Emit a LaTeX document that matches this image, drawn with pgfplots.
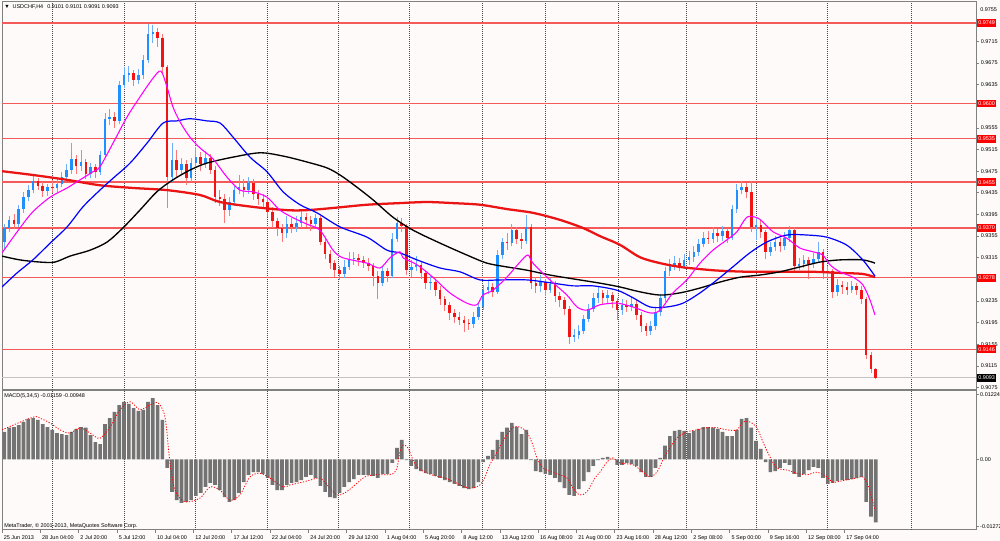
\documentclass[border=0pt]{standalone}
\usepackage{fontspec}
\setmainfont{Liberation Sans}
\usepackage{pgfplots}
\usepackage{pgfplotstable}
\pgfplotsset{compat=1.18}
\definecolor{bg}{RGB}{253,250,249}
\definecolor{upc}{RGB}{30,144,255}
\definecolor{upw}{RGB}{110,175,250}
\definecolor{dnc}{RGB}{240,20,20}
\definecolor{dnw}{RGB}{250,120,120}
\definecolor{lvl}{RGB}{245,90,90}
\definecolor{maM}{RGB}{255,0,255}
\definecolor{maB}{RGB}{0,0,255}
\definecolor{maR}{RGB}{235,20,20}
\definecolor{hist}{RGB}{115,115,115}
\definecolor{frame}{RGB}{128,128,128}
\definecolor{gridc}{RGB}{70,70,70}
\definecolor{bid}{RGB}{195,195,195}
\newcommand\mt{\fontsize{4.1pt}{4.9pt}\selectfont}

\pgfplotstableread{
i o h l c
1 0.9345 0.9378 0.9330 0.9370
3 0.9370 0.9392 0.9362 0.9385
5 0.9385 0.9395 0.9368 0.9378
7 0.9378 0.9412 0.9372 0.9405
9 0.9405 0.9436 0.9398 0.9428
11 0.9428 0.9450 0.9420 0.9440
13 0.9440 0.9466 0.9434 0.9456
15 0.9456 0.9462 0.9440 0.9448
17 0.9448 0.9455 0.9428 0.9438
19 0.9438 0.9452 0.9430 0.9446
21 0.9446 0.9458 0.9435 0.9443
23 0.9443 0.9460 0.9436 0.9452
25 0.9452 0.9474 0.9445 0.9465
27 0.9465 0.9488 0.9458 0.9478
29 0.9478 0.9527 0.9470 0.9497
31 0.9497 0.9505 0.9470 0.9484
33 0.9484 0.9515 0.9475 0.9492
35 0.9492 0.9498 0.9460 0.9470
37 0.9470 0.9490 0.9462 0.9482
39 0.9482 0.9488 0.9462 0.9474
41 0.9474 0.9512 0.9468 0.9505
43 0.9505 0.9582 0.9500 0.9572
45 0.9572 0.9590 0.9560 0.9576
47 0.9576 0.9585 0.9555 0.9568
49 0.9568 0.9642 0.9562 0.9635
51 0.9635 0.9668 0.9628 0.9652
53 0.9652 0.9670 0.9640 0.9656
55 0.9656 0.9662 0.9632 0.9644
57 0.9644 0.9663 0.9636 0.9652
59 0.9652 0.9690 0.9645 0.9680
61 0.9680 0.9747 0.9675 0.9728
63 0.9728 0.9745 0.9712 0.9732
65 0.9732 0.9740 0.9705 0.9722
67 0.9722 0.9728 0.9655 0.9668
69 0.9668 0.9672 0.9407 0.9465
71 0.9465 0.9528 0.9455 0.9495
73 0.9495 0.9515 0.9462 0.9478
75 0.9478 0.9500 0.9468 0.9488
77 0.9488 0.9495 0.9450 0.9462
79 0.9462 0.9500 0.9455 0.9490
81 0.9490 0.9520 0.9480 0.9502
83 0.9502 0.9510 0.9475 0.9488
85 0.9488 0.9512 0.9480 0.9500
87 0.9500 0.9506 0.9470 0.9478
89 0.9478 0.9484 0.9416 0.9428
91 0.9428 0.9440 0.9410 0.9424
93 0.9424 0.9432 0.9380 0.9403
95 0.9403 0.9428 0.9392 0.9418
97 0.9418 0.9450 0.9410 0.9440
99 0.9440 0.9468 0.9432 0.9446
101 0.9446 0.9460 0.9428 0.9440
103 0.9440 0.9465 0.9432 0.9454
105 0.9454 0.9460 0.9422 0.9432
107 0.9432 0.9440 0.9412 0.9424
109 0.9424 0.9432 0.9405 0.9418
111 0.9418 0.9425 0.9390 0.9400
113 0.9400 0.9408 0.9370 0.9382
115 0.9382 0.9388 0.9355 0.9370
117 0.9370 0.9378 0.9345 0.9360
119 0.9360 0.9392 0.9352 0.9377
121 0.9377 0.9388 0.9360 0.9372
123 0.9372 0.9392 0.9362 0.9380
125 0.9380 0.9402 0.9370 0.9390
127 0.9390 0.9398 0.9372 0.9384
129 0.9384 0.9392 0.9365 0.9378
131 0.9378 0.9396 0.9370 0.9388
133 0.9388 0.9392 0.9338 0.9345
135 0.9345 0.9352 0.9312 0.9322
137 0.9322 0.9330 0.9295 0.9305
139 0.9305 0.9310 0.9280 0.9292
141 0.9292 0.9300 0.9274 0.9285
143 0.9285 0.9310 0.9278 0.9298
145 0.9298 0.9325 0.9292 0.9312
147 0.9312 0.9326 0.9302 0.9314
149 0.9314 0.9322 0.9300 0.9310
151 0.9310 0.9318 0.9296 0.9306
153 0.9306 0.9314 0.9290 0.9300
155 0.9300 0.9306 0.9262 0.9282
157 0.9282 0.9290 0.9238 0.9268
159 0.9268 0.9298 0.9262 0.9290
161 0.9290 0.9296 0.9270 0.9282
163 0.9282 0.9360 0.9278 0.9350
165 0.9350 0.9390 0.9345 0.9380
167 0.9380 0.9388 0.9362 0.9374
169 0.9374 0.9378 0.9284 0.9292
171 0.9292 0.9310 0.9280 0.9298
173 0.9298 0.9318 0.9290 0.9302
175 0.9302 0.9308 0.9275 0.9286
177 0.9286 0.9292 0.9258 0.9268
179 0.9268 0.9282 0.9255 0.9270
181 0.9270 0.9276 0.9245 0.9255
183 0.9255 0.9262 0.9228 0.9238
185 0.9238 0.9244 0.9216 0.9228
187 0.9228 0.9234 0.9200 0.9212
189 0.9212 0.9220 0.9195 0.9206
191 0.9206 0.9214 0.9190 0.9200
193 0.9200 0.9208 0.9178 0.9194
195 0.9194 0.9202 0.9182 0.9192
197 0.9192 0.9214 0.9186 0.9206
199 0.9206 0.9232 0.9200 0.9224
201 0.9224 0.9264 0.9218 0.9256
203 0.9256 0.9272 0.9248 0.9260
205 0.9260 0.9268 0.9242 0.9252
207 0.9252 0.9330 0.9248 0.9320
209 0.9320 0.9352 0.9312 0.9345
211 0.9345 0.9360 0.9330 0.9342
213 0.9342 0.9378 0.9336 0.9366
215 0.9366 0.9372 0.9340 0.9350
217 0.9350 0.9360 0.9332 0.9346
219 0.9346 0.9394 0.9340 0.9372
221 0.9372 0.9378 0.9258 0.9268
223 0.9268 0.9280 0.9250 0.9262
225 0.9262 0.9284 0.9252 0.9270
227 0.9270 0.9276 0.9244 0.9256
229 0.9256 0.9278 0.9250 0.9266
231 0.9266 0.9272 0.9234 0.9244
233 0.9244 0.9252 0.9224 0.9236
235 0.9236 0.9242 0.9210 0.9220
237 0.9220 0.9226 0.9156 0.9168
239 0.9168 0.9184 0.9160 0.9172
241 0.9172 0.9190 0.9164 0.9180
243 0.9180 0.9210 0.9174 0.9202
245 0.9202 0.9230 0.9196 0.9220
247 0.9220 0.9250 0.9214 0.9240
249 0.9240 0.9262 0.9232 0.9250
251 0.9250 0.9256 0.9230 0.9240
253 0.9240 0.9256 0.9232 0.9246
255 0.9246 0.9252 0.9222 0.9235
257 0.9235 0.9240 0.9200 0.9218
259 0.9218 0.9238 0.9210 0.9228
261 0.9228 0.9236 0.9214 0.9224
263 0.9224 0.9242 0.9216 0.9230
265 0.9230 0.9236 0.9200 0.9210
267 0.9210 0.9215 0.9178 0.9188
269 0.9188 0.9194 0.9170 0.9180
271 0.9180 0.9198 0.9172 0.9188
273 0.9188 0.9222 0.9182 0.9215
275 0.9215 0.9248 0.9208 0.9240
277 0.9240 0.9298 0.9234 0.9290
279 0.9290 0.9312 0.9282 0.9300
281 0.9300 0.9318 0.9292 0.9306
283 0.9306 0.9314 0.9290 0.9300
285 0.9300 0.9322 0.9294 0.9310
287 0.9310 0.9328 0.9302 0.9316
289 0.9316 0.9336 0.9308 0.9326
291 0.9326 0.9350 0.9318 0.9340
293 0.9340 0.9362 0.9334 0.9352
295 0.9352 0.9364 0.9340 0.9350
297 0.9350 0.9372 0.9342 0.9360
299 0.9360 0.9368 0.9345 0.9355
301 0.9355 0.9374 0.9346 0.9364
303 0.9364 0.9370 0.9342 0.9352
305 0.9352 0.9412 0.9348 0.9405
307 0.9405 0.9452 0.9398 0.9440
309 0.9440 0.9456 0.9432 0.9446
311 0.9446 0.9454 0.9425 0.9436
313 0.9436 0.9456 0.9362 0.9372
315 0.9372 0.9390 0.9348 0.9376
317 0.9376 0.9385 0.9352 0.9362
319 0.9362 0.9366 0.9312 0.9325
321 0.9325 0.9345 0.9318 0.9335
323 0.9335 0.9356 0.9328 0.9345
325 0.9345 0.9352 0.9326 0.9336
327 0.9336 0.9362 0.9330 0.9352
329 0.9352 0.9374 0.9345 0.9366
331 0.9366 0.9372 0.9290 0.9300
333 0.9300 0.9314 0.9292 0.9304
335 0.9304 0.9320 0.9296 0.9310
337 0.9310 0.9316 0.9276 0.9304
339 0.9304 0.9324 0.9296 0.9312
341 0.9312 0.9345 0.9306 0.9326
343 0.9326 0.9332 0.9276 0.9286
345 0.9286 0.9300 0.9276 0.9290
347 0.9290 0.9294 0.9240 0.9252
349 0.9252 0.9276 0.9244 0.9264
351 0.9264 0.9272 0.9248 0.9260
353 0.9260 0.9270 0.9246 0.9256
355 0.9256 0.9272 0.9250 0.9262
357 0.9262 0.9268 0.9246 0.9255
359 0.9255 0.9262 0.9230 0.9238
361 0.9238 0.9242 0.9128 0.9135
363 0.9135 0.9140 0.9102 0.9110
365 0.9110 0.9112 0.9090 0.9093
}\candles

\pgfplotstableread{
i m
1 5.2
3 6.0
5 6.1
7 6.5
9 7.1
11 7.7
13 7.8
15 7.5
17 6.7
19 6.1
21 5.6
23 5.0
25 4.8
27 4.6
29 5.2
31 5.8
33 6.1
35 6.0
37 4.6
39 3.3
41 2.9
43 6.7
45 7.8
47 9.0
49 10.3
51 10.9
53 10.5
55 9.7
57 9.2
59 9.4
61 10.9
63 11.6
65 10.3
67 7.5
69 -1.6
71 -6.1
73 -7.7
75 -8.2
77 -8.0
79 -7.7
81 -6.9
83 -6.3
85 -5.2
87 -4.4
89 -4.8
91 -5.8
93 -7.1
95 -8.0
97 -7.7
99 -6.3
101 -4.3
103 -2.9
105 -2.4
107 -2.4
109 -2.7
111 -3.5
113 -4.8
115 -5.8
117 -5.8
119 -4.8
121 -4.4
123 -4.3
125 -3.9
127 -3.3
129 -2.9
131 -3.5
133 -5.0
135 -6.1
137 -7.1
139 -7.3
141 -6.3
143 -5.2
145 -4.3
147 -3.7
149 -2.9
151 -2.9
153 -2.9
155 -3.1
157 -3.5
159 -2.7
161 -2.7
163 -0.66
165 2.2
167 3.7
169 -0.1
171 -1.2
173 -1.8
175 -2.2
177 -2.6
179 -2.7
181 -3.1
183 -3.5
185 -3.9
187 -4.3
189 -4.6
191 -5.0
193 -5.4
195 -5.6
197 -5.4
199 -4.3
201 -0.5
203 0.66
205 1.8
207 3.7
209 5.2
211 6.0
213 6.9
215 6.1
217 4.8
219 5.6
221 -0.1
223 -2.2
225 -2.4
227 -2.7
229 -2.9
231 -3.5
233 -4.3
235 -5.4
237 -6.7
239 -6.9
241 -5.6
243 -4.1
245 -2.4
247 -1.2
249 -0.1
251 0.3
253 0.5
255 0.1
257 -1.0
259 -1.0
261 -0.66
263 -0.85
265 -1.2
267 -2.4
269 -3.3
271 -3.3
273 -1.6
275 0.3
277 2.6
279 4.4
281 5.4
283 5.6
285 5.4
287 5.0
289 5.4
291 5.8
293 6.1
295 6.1
297 6.0
299 5.8
301 5.2
303 4.4
305 4.4
307 5.6
309 7.7
311 7.8
313 6.0
315 3.5
317 2.0
319 -0.5
321 -2.4
323 -2.2
325 -1.6
327 -0.66
329 -1.0
331 -2.7
333 -3.3
335 -2.7
337 -2.0
339 -1.4
341 -1.6
343 -3.5
345 -4.6
347 -4.4
349 -4.1
351 -3.9
353 -3.9
355 -3.7
357 -3.5
359 -3.3
361 -8.0
363 -10.8
365 -11.9
}\macd

\begin{document}
\begin{tikzpicture}
\fill[bg] (0,0) rectangle (750pt,405.75pt);
\pgfplotsset{
  mtaxis/.style={
    anchor=south west, scale only axis, width=730.5pt,
    xmin=0, xmax=406.9,
    axis line style={draw=frame, line width=0.75pt},
    tick align=outside, major tick length=2.25pt,
    tick style={draw=frame, line width=0.5pt},
    tick label style={font=\mt, text=black},
    ytick pos=right, yticklabel pos=right,
    yticklabel style={inner sep=0pt, anchor=west, xshift=1.2pt},
    extra x ticks={20.9,51.0,80.6,110.7,140.4,170.4,200.5,227.2,257.3,286.1,315.0,345.0,380.1},
    extra x tick labels={},
    extra x tick style={grid=major, major tick length=0pt},
    major grid style={draw=gridc, line width=0.6pt, dash pattern=on 0.75pt off 0.75pt},
  },
  candle/.style={forget plot, draw=none, mark=none,
    error bars/y dir=plus, error bars/y explicit, error bars/error mark=none}
}
\begin{axis}[mtaxis, name=main, at={(1.5pt,113.25pt)}, height=291pt,
  ymin=0.90705, ymax=0.97878, xtick=\empty,
  ytick={0.9075,0.9115,0.9155,0.9195,0.9235,0.9315,0.9355,0.9395,0.9435,0.9475,0.9515,0.9555,0.9635,0.9675,0.9715},
  yticklabels={0.9075,0.9115,0.9155,0.9195,0.9235,0.9315,0.9355,0.9395,0.9435,0.9475,0.9515,0.9555,0.9635,0.9675,0.9715}]
% level lines
\addplot[lvl, line width=0.9pt, forget plot] coordinates {(0,0.9749) (406.9,0.9749)};
\addplot[lvl, line width=0.9pt, forget plot] coordinates {(0,0.9600) (406.9,0.9600)};
\addplot[lvl, line width=0.9pt, forget plot] coordinates {(0,0.9535) (406.9,0.9535)};
\addplot[lvl, line width=0.9pt, forget plot] coordinates {(0,0.9455) (406.9,0.9455)};
\addplot[lvl, line width=0.9pt, forget plot] coordinates {(0,0.9370) (406.9,0.9370)};
\addplot[lvl, line width=0.9pt, forget plot] coordinates {(0,0.9278) (406.9,0.9278)};
\addplot[lvl, line width=0.9pt, forget plot] coordinates {(0,0.9146) (406.9,0.9146)};
\addplot[bid, line width=0.75pt, forget plot] coordinates {(0,0.9093) (406.9,0.9093)};
% wicks
\addplot[candle, restrict expr to domain={\thisrow{c}-\thisrow{o}}{0:1},
  error bars/error bar style={draw=upw, line width=0.6pt}]
  table[x=i, y=l, y error plus expr={\thisrow{h}-\thisrow{l}}] {\candles};
\addplot[candle, restrict expr to domain={\thisrow{c}-\thisrow{o}}{-1:0},
  error bars/error bar style={draw=dnw, line width=0.6pt}]
  table[x=i, y=l, y error plus expr={\thisrow{h}-\thisrow{l}}] {\candles};
% bodies
\addplot[candle, restrict expr to domain={\thisrow{c}-\thisrow{o}}{0:1},
  error bars/error bar style={draw=upc, line width=1.9pt}]
  table[x=i, y=o, y error plus expr={\thisrow{c}-\thisrow{o}}] {\candles};
\addplot[candle, restrict expr to domain={\thisrow{c}-\thisrow{o}}{-1:0},
  error bars/error bar style={draw=dnc, line width=1.9pt}]
  table[x=i, y=c, y error plus expr={\thisrow{o}-\thisrow{c}}] {\candles};
% moving averages
\addplot[maR, line width=1.7pt, smooth, tension=0.5] coordinates {(0,0.9475) (12.9,0.9468) (27.2,0.9459) (40.9,0.9449) (54.7,0.9444) (68.9,0.9440) (82.7,0.9431) (91.1,0.9418) (104.8,0.9409) (119.0,0.9403) (127.4,0.9403) (138.3,0.9407) (152.5,0.9413) (166.2,0.9416) (177.5,0.9418) (188.4,0.9416) (199.7,0.9413) (210.9,0.9405) (221.8,0.9398) (233.1,0.9385) (242.7,0.9370) (249.8,0.9355) (258.1,0.9339) (266.5,0.9316) (274.9,0.9305) (283.2,0.9298) (291.6,0.9294) (299.9,0.9291) (312.4,0.9289) (325.0,0.9289) (338.8,0.9289) (350.0,0.9287) (359.6,0.9285) (364.7,0.9279)};
\addplot[black, line width=1.0pt, smooth, tension=0.5] coordinates {(0,0.9318) (7.5,0.9311) (15.9,0.9307) (22.1,0.9307) (28.4,0.9318) (36.8,0.9329) (43.9,0.9344) (50.5,0.9370) (57.6,0.9403) (64.7,0.9437) (71.4,0.9459) (78.5,0.9477) (85.6,0.9490) (96.5,0.9501) (107.8,0.9509) (117.4,0.9503) (127.4,0.9492) (135.8,0.9481) (141.2,0.9468) (147.5,0.9448) (155.0,0.9422) (163.3,0.9390) (171.7,0.9366) (183.0,0.9342) (194.2,0.9320) (202.6,0.9305) (210.9,0.9298) (219.3,0.9292) (228.9,0.9283) (238.5,0.9276) (249.8,0.9268) (258.1,0.9261) (266.5,0.9252) (274.9,0.9246) (283.2,0.9250) (291.6,0.9259) (299.9,0.9270) (308.3,0.9279) (316.6,0.9283) (325.0,0.9289) (333.3,0.9298) (341.7,0.9307) (350.0,0.9311) (359.6,0.9311) (364.7,0.9305)};
\addplot[maB, line width=0.9pt, smooth, tension=0.5] coordinates {(0,0.9261) (6.3,0.9287) (12.9,0.9311) (20.1,0.9342) (27.2,0.9372) (33.8,0.9409) (40.9,0.9440) (46.4,0.9462) (53.5,0.9490) (60.6,0.9527) (67.3,0.9564) (73.1,0.9568) (78.5,0.9572) (85.6,0.9568) (91.1,0.9564) (96.5,0.9538) (103.6,0.9501) (110.7,0.9474) (117.4,0.9437) (124.5,0.9413) (131.6,0.9398) (141.2,0.9372) (152.5,0.9353) (160.8,0.9329) (166.2,0.9324) (173.4,0.9311) (183.0,0.9296) (191.3,0.9289) (199.7,0.9274) (208.0,0.9274) (219.3,0.9274) (230.2,0.9268) (238.5,0.9263) (246.9,0.9263) (256.9,0.9255) (263.6,0.9241) (270.7,0.9224) (277.8,0.9224) (284.5,0.9231) (291.6,0.9250) (298.7,0.9274) (305.3,0.9298) (312.4,0.9324) (319.5,0.9344) (327.9,0.9357) (336.3,0.9357) (344.6,0.9353) (353.0,0.9338) (359.6,0.9311) (364.7,0.9281)};
\addplot[maM, line width=0.8pt, smooth, tension=0.5] coordinates {(0,0.9324) (7.5,0.9370) (12.9,0.9400) (20.1,0.9427) (27.2,0.9444) (32.6,0.9459) (38.0,0.9474) (40.9,0.9483) (46.4,0.9527) (52.2,0.9575) (57.6,0.9612) (63.1,0.9647) (66.4,0.9660) (68.9,0.9631) (71.4,0.9594) (74.4,0.9566) (78.5,0.9538) (82.7,0.9518) (88.1,0.9498) (94.0,0.9464) (99.4,0.9440) (104.8,0.9437) (110.7,0.9427) (116.1,0.9403) (121.6,0.9389) (127.4,0.9377) (132.8,0.9366) (138.3,0.9329) (142.4,0.9315) (152.5,0.9305) (157.9,0.9296) (162.1,0.9315) (166.2,0.9326) (167.5,0.9315) (173.4,0.9302) (180.0,0.9279) (187.1,0.9250) (194.2,0.9231) (198.4,0.9228) (200.9,0.9246) (205.1,0.9255) (210.9,0.9279) (216.4,0.9307) (219.7,0.9320) (221.8,0.9305) (228.9,0.9274) (236.0,0.9246) (240.2,0.9224) (244.4,0.9218) (249.8,0.9228) (256.9,0.9231) (263.6,0.9224) (270.7,0.9213) (274.9,0.9218) (280.3,0.9250) (286.1,0.9274) (291.6,0.9305) (297.0,0.9329) (302.8,0.9348) (307.0,0.9363) (311.2,0.9390) (315.4,0.9389) (317.9,0.9381) (322.1,0.9363) (327.9,0.9351) (333.3,0.9333) (338.8,0.9326) (342.9,0.9320) (345.9,0.9302) (350.0,0.9289) (355.5,0.9279) (359.6,0.9265) (362.6,0.9237) (364.7,0.9209)};
\coordinate (p1) at (axis cs:406.9,0.9749);
\coordinate (p2) at (axis cs:406.9,0.9600);
\coordinate (p3) at (axis cs:406.9,0.9535);
\coordinate (p4) at (axis cs:406.9,0.9455);
\coordinate (p5) at (axis cs:406.9,0.9370);
\coordinate (p6) at (axis cs:406.9,0.9278);
\coordinate (p7) at (axis cs:406.9,0.9146);
\coordinate (p8) at (axis cs:406.9,0.9093);
\end{axis}

\begin{axis}[mtaxis, name=macd, at={(1.5pt,8.25pt)}, height=104.25pt,
  ymin=-13.33, ymax=12.95,
  xtick={0,16,...,352}, xtick pos=left,
  xticklabels={25 Jun 2013,28 Jun 04:00,2 Jul 20:00,5 Jul 12:00,10 Jul 04:00,12 Jul 20:00,17 Jul 12:00,22 Jul 04:00,24 Jul 20:00,29 Jul 12:00,1 Aug 04:00,5 Aug 20:00,8 Aug 12:00,13 Aug 12:00,16 Aug 08:00,21 Aug 00:00,23 Aug 16:00,28 Aug 12:00,2 Sep 08:00,5 Sep 00:00,9 Sep 16:00,12 Sep 08:00,17 Sep 04:00},
  xticklabel style={anchor=north west, inner sep=0pt, xshift=1.2pt, yshift=-1.5pt},
  yticklabel style={xshift=-0.5pt},
  ytick={-12.72,0,12.24}, yticklabels={-0.01272,0.00,0.01224}]
\addplot[ybar, bar width=2.75pt, fill=hist, draw=none, forget plot] table[x=i, y=m] {\macd};
\addplot[red, line width=0.6pt, dash pattern=on 0.9pt off 1.2pt, smooth, tension=0.5] coordinates {(0,5.6) (12.9,8.0) (15.9,7.8) (20.1,6.9) (24.2,5.6) (28.4,5.0) (32.6,6.0) (36.8,5.0) (40.9,4.0) (45.1,6.1) (49.3,9.4) (53.5,10.9) (57.6,9.4) (61.8,10.3) (65.2,10.7) (68.1,8.0) (70.2,-0.66) (72.3,-5.8) (76.4,-8.0) (82.7,-7.3) (86.9,-5.2) (91.1,-5.8) (95.2,-7.7) (99.4,-6.7) (103.6,-3.3) (107.8,-2.6) (111.9,-3.5) (117.4,-5.2) (120.3,-4.8) (124.5,-4.4) (128.7,-3.9) (132.8,-3.5) (135.8,-4.8) (139.9,-6.7) (143.3,-6.3) (147.5,-4.8) (151.6,-3.3) (155.8,-2.9) (160.0,-2.9) (163.3,-2.7) (165.0,-1.6) (166.2,1.4) (167.5,2.7) (169.6,2.2) (171.7,-0.1) (173.8,-1.6) (176.7,-2.4) (180.9,-3.1) (185.0,-3.5) (189.2,-4.3) (193.4,-5.2) (196.7,-5.4) (199.7,-4.8) (201.8,-3.3) (203.8,-1.0) (206.8,1.4) (210.1,4.1) (213.5,6.1) (216.4,6.1) (219.3,5.2) (221.8,2.7) (223.5,0.3) (226.0,-1.6) (231.0,-2.6) (236.0,-3.5) (238.5,-5.4) (241.4,-6.7) (244.4,-6.1) (247.7,-3.5) (249.8,-2.4) (252.7,-0.5) (255.2,0.3) (258.1,-0.66) (263.6,-1.0) (267.8,-2.4) (270.7,-3.3) (273.6,-2.4) (276.1,-0.1) (279.0,2.2) (282.0,4.1) (286.1,5.2) (290.3,5.6) (294.5,6.0) (298.7,6.0) (302.8,5.6) (307.0,5.6) (309.5,7.1) (312.4,7.1) (315.4,6.0) (317.9,3.3) (320.8,0.5) (323.7,-1.6) (327.9,-2.0) (332.1,-2.6) (336.3,-2.9) (340.4,-2.4) (344.6,-3.3) (347.1,-4.3) (352.1,-3.9) (357.1,-3.5) (359.6,-3.3) (361.7,-4.8) (363.4,-7.3) (364.7,-9.5)};
\end{axis}

\tikzset{lab/.style={anchor=west, fill=red, text=white, font=\mt, inner xsep=0.9pt, inner ysep=1.1pt, text height=3.3pt, text depth=0.3pt, xshift=0.6pt}}
\node[lab] at (p1) {0.9749};
\node[lab] at (p2) {0.9600};
\node[lab] at (p3) {0.9535};
\node[lab] at (p4) {0.9455};
\node[lab] at (p5) {0.9370};
\node[lab] at (p6) {0.9278};
\node[lab] at (p7) {0.9146};
\node[lab, fill=black] at (p8) {0.9093};
\node[anchor=west, font=\mt, inner sep=0pt] at (735pt,398.5pt) {0.9755};

\node[anchor=west, font=\mt, inner sep=0pt] at (3pt,400.9pt) {▼\hspace{2.2pt}USDCHF,H4\hspace{3pt}0.9101 0.9101 0.9091 0.9093};
\node[anchor=west, font=\mt, inner sep=0pt] at (3pt,108.5pt) {MACD(5,34,5) -0.01159 -0.00948};
\node[anchor=west, font=\mt, inner sep=0pt] at (3pt,11.25pt) {MetaTrader, © 2001-2013, MetaQuotes Software Corp.};

\pgfresetboundingbox
\path (0,0) rectangle (750pt,405.75pt);
\end{tikzpicture}
\end{document}
